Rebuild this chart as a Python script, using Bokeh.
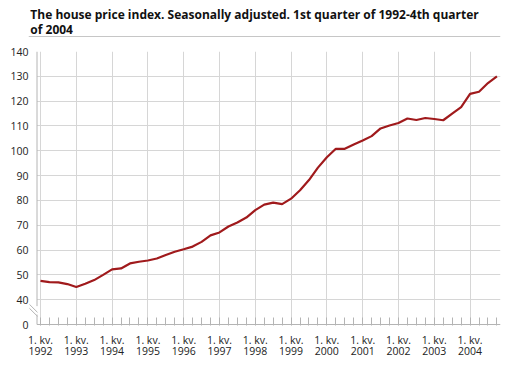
from bokeh.plotting import figure
from bokeh.models import Range1d, FixedTicker, BoxAnnotation
from bokeh.core.properties import value
from bokeh.layouts import column
from bokeh.embed import file_html
from bokeh.resources import INLINE

# ---- data -------------------------------------------------------------
years = list(range(1992, 2005))
quarter_index = list(range(52))
house_price_index = [
    47.6, 47.1, 47.0, 46.3,      # 1992
    45.1, 46.4, 47.9, 50.0,      # 1993
    52.2, 52.6, 54.6, 55.3,      # 1994
    55.8, 56.6, 58.0, 59.3,      # 1995
    60.3, 61.4, 63.3, 65.9,      # 1996
    67.1, 69.5, 71.1, 73.1,      # 1997
    76.1, 78.3, 79.1, 78.5,      # 1998
    80.7, 84.1, 88.2, 93.2,      # 1999
    97.4, 100.8, 100.8, 102.5,   # 2000
    104.1, 105.9, 109.0, 110.2,  # 2001
    111.2, 113.0, 112.4, 113.2,  # 2002
    112.8, 112.3, 115.0, 117.6,  # 2003
    122.9, 123.8, 127.3, 130.0,  # 2004
]
y_ticks = [30, 40, 50, 60, 70, 80, 90, 100, 110, 120, 130, 140]
y_tick_labels = ["0", "40", "50", "60", "70", "80", "90", "100", "110", "120", "130", "140"]
x_tick_labels = ["1. kv.\n%d" % y for y in years]
title_lines = ["The house price index. Seasonally adjusted. 1st quarter of 1992-4th quarter",
               "of 2004"]

FONT = "Open Sans"
LINE_COLOR = "#a01a1c"
GRID_COLOR = "#d6d6d6"
AXIS_COLOR = "#b4b4b4"
TEXT_COLOR = "#222222"

X0, X1 = -1.34, 51.4          # visible quarter range
AXIS_X = -0.39                 # where the value axis line sits
Y_BOTTOM = 30                  # the "0" level (broken axis)


def strip(height):
    """Full-width figure used for the heading and the bottom rule."""
    f = figure(width=511, height=height, output_backend="svg", toolbar_location=None,
               x_axis_type=None, y_axis_type=None, min_border=0, margin=0,
               x_range=Range1d(0, 511), y_range=Range1d(0, height))
    f.outline_line_color = None
    f.grid.visible = False
    f.background_fill_color = "white"
    f.border_fill_color = "white"
    return f


# heading with its rule underneath (pixel layout of the strip)
head = strip(37)
head.text(x=[2, 2], y=[23.5, 8], text=title_lines, text_font=value(FONT),
          text_font_style="bold", text_font_size="12px", text_color="#111111",
          text_baseline="alphabetic")
head.segment(x0=[0], y0=[0.5], x1=[511], y1=[0.5], line_color="#8c8c8c", line_width=1)

p = figure(width=511, height=328, output_backend="svg", toolbar_location=None,
           x_range=Range1d(X0, X1), y_range=Range1d(29.6, 140),
           min_border_left=28, min_border_right=11, min_border_top=14,
           min_border_bottom=40, margin=0)
p.outline_line_color = None
p.background_fill_color = "white"
p.border_fill_color = "white"

year_pos = [4 * (y - years[0]) for y in years]
p.xaxis.ticker = FixedTicker(ticks=year_pos, minor_ticks=quarter_index)
p.xaxis.major_label_overrides = {pos: lab for pos, lab in zip(year_pos, x_tick_labels)}
p.yaxis.ticker = FixedTicker(ticks=y_ticks)
p.yaxis.major_label_overrides = {t: lab for t, lab in zip(y_ticks, y_tick_labels)}
p.ygrid.ticker = FixedTicker(ticks=y_ticks[1:])

for ax in (p.xaxis, p.yaxis):
    ax.axis_line_color = None
    ax.major_tick_line_color = None
    ax.major_tick_in = 0
    ax.major_tick_out = 0
    ax.major_label_text_font = FONT
    ax.major_label_text_font_size = "10.5px"
    ax.major_label_text_color = TEXT_COLOR
p.yaxis.minor_tick_line_color = None
p.xaxis.minor_tick_line_color = AXIS_COLOR
p.xaxis.minor_tick_in = 8
p.xaxis.minor_tick_out = 0
p.xaxis.major_label_standoff = 7
p.xaxis.major_label_text_line_height = 0.8
p.yaxis.major_label_standoff = 0

p.xgrid.grid_line_color = GRID_COLOR
p.ygrid.grid_line_color = GRID_COLOR

# keep the grid from running left of the value axis
p.add_layout(BoxAnnotation(right=AXIS_X, fill_color="white", fill_alpha=1,
                           line_color=None, level="underlay"))

# axis lines, with a break between 40 and 0
p.segment(x0=[AXIS_X, AXIS_X, AXIS_X], y0=[140, 34.0, Y_BOTTOM],
          x1=[AXIS_X, AXIS_X, X1], y1=[37.4, Y_BOTTOM, Y_BOTTOM],
          line_color=AXIS_COLOR, line_width=1)
p.segment(x0=[-1.23, -1.23], y0=[38.1, 36.5], x1=[-0.335, -0.335], y1=[34.9, 33.3],
          line_color=AXIS_COLOR, line_width=1)

p.line(quarter_index, house_price_index, line_color=LINE_COLOR, line_width=2.2)

# grey rule along the bottom edge
bar = strip(3)
bar.quad(left=[0], right=[511], bottom=[0], top=[3], fill_color="#c8c8c8",
         line_color=None)

layout = column(head, p, bar, spacing=0)
open("out.html", "w").write(file_html(layout, INLINE))
